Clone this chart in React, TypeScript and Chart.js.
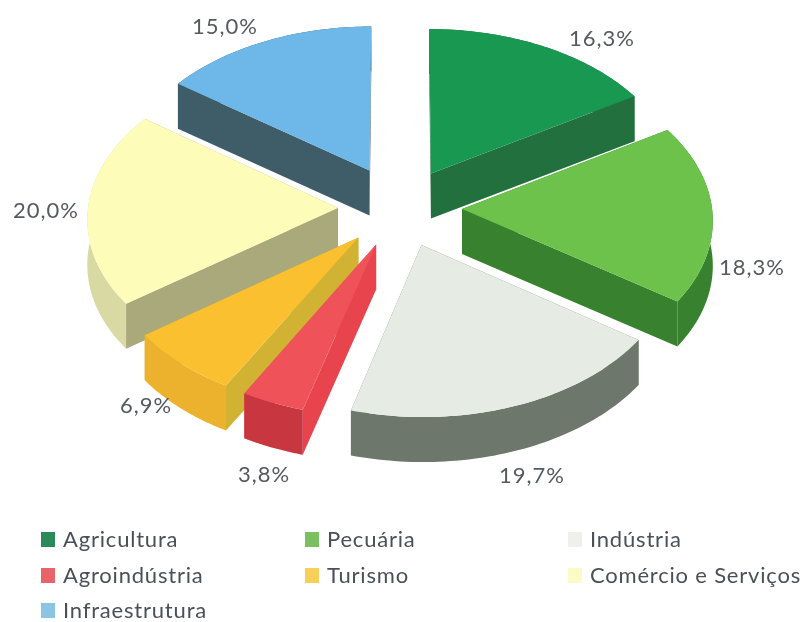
import React, { useEffect, useRef } from "react";
import { Chart, registerables } from "chart.js";

Chart.register(...registerables);

const categories = ["Agricultura", "Pecuária", "Indústria", "Agroindústria", "Turismo", "Comércio e Serviços", "Infraestrutura"];
const shares = [16.3, 18.3, 19.7, 3.8, 6.9, 20.0, 15.0];
const valueLabels = ["16,3%", "18,3%", "19,7%", "3,8%", "6,9%", "20,0%", "15,0%"];

const topColors = ["#199852", "#6cc24a", "#e6ece4", "#f0525a", "#fbc02f", "#fdfcb9", "#6db7e9"];
const rimColors = ["#23703f", "#37812f", "#6d776b", "#c8363f", "#ecb22e", "#d9d9a4", "#3f5c69"];
const wallColors = ["#23703f", "#37812f", "#6d776b", "#e8444e", "#d2b233", "#a9a97b", "#3f5c69"];
const legendColors = ["#2a8a58", "#78c060", "#eef0ec", "#e8636a", "#f8cf58", "#fafcc8", "#8cc4e4"];

const explode = [64, 62, 62, 62, 62, 62, 68];
const labelAnchors = [[602, 39], [752, 268], [532, 476], [264, 475], [146, 406], [46, 211], [225, 27]];
const legendCells = [[41, 540], [305, 540], [568, 540], [41, 576], [305, 576], [568, 576], [41, 611]];

const SQUASH = 0.628;
const PERSPECTIVE = 0.00024;
const DEPTH = 45;
const ARC_STEPS = 60;

const pie3d = {
  id: "pie3d",
  beforeDatasetsDraw(chart: any) {
    const ctx: CanvasRenderingContext2D = chart.ctx;
    const arcs = chart.getDatasetMeta(0).data.map((el: any, i: number) => ({ el, i }));
    const mid = (a: any) => (a.el.startAngle + a.el.endAngle) / 2;
    arcs.sort((a: any, b: any) => Math.sin(mid(a)) - Math.sin(mid(b)));
    for (const { el, i } of arcs) {
      const m = mid({ el });
      const off = el.options.offset;
      const ax = Math.cos(m) * off;
      const ay = Math.sin(m) * off;
      const r = el.outerRadius;
      const s0 = el.startAngle;
      const e0 = el.endAngle;
      const project = (wx: number, wy: number, d = 0): [number, number] => {
        const s = 1 / (1 - PERSPECTIVE * wy);
        return [el.x + wx * s, el.y + wy * SQUASH * s + d];
      };
      const rimPoint = (t: number, d = 0) => project(ax + Math.cos(t) * r, ay + Math.sin(t) * r, d);
      const apex = (d = 0) => project(ax, ay, d);
      const poly = (pts: [number, number][], fill: string) => {
        ctx.fillStyle = fill;
        ctx.beginPath();
        pts.forEach((p, k) => (k ? ctx.lineTo(p[0], p[1]) : ctx.moveTo(p[0], p[1])));
        ctx.closePath();
        ctx.fill();
      };
      const arcPts: number[] = [];
      for (let k = 0; k <= ARC_STEPS; k++) arcPts.push(s0 + ((e0 - s0) * k) / ARC_STEPS);
      // cut faces
      for (const t of [s0, e0]) {
        poly([apex(), rimPoint(t), rimPoint(t, DEPTH), apex(DEPTH)], wallColors[i]);
      }
      // outer rim
      poly(
        [...arcPts.map((t) => rimPoint(t)), ...arcPts.slice().reverse().map((t) => rimPoint(t, DEPTH))],
        rimColors[i]
      );
      // top face
      poly([apex(), ...arcPts.map((t) => rimPoint(t))], el.options.backgroundColor);
    }
    return false;
  },
  afterDraw(chart: any) {
    const ctx: CanvasRenderingContext2D = chart.ctx as any;
    ctx.save();
    ctx.textBaseline = "middle";
    ctx.fillStyle = "#555a60";
    ctx.font = "22px Lato";
    (ctx as any).letterSpacing = "1px";
    ctx.textAlign = "center";
    valueLabels.forEach((t, i) => ctx.fillText(t, labelAnchors[i][0], labelAnchors[i][1]));
    ctx.textAlign = "left";
    (ctx as any).letterSpacing = "0.8px";
    categories.forEach((c, i) => {
      const [lx, ly] = legendCells[i];
      ctx.fillStyle = legendColors[i];
      ctx.fillRect(lx, ly - 8, 14, 15);
      ctx.fillStyle = "#4a5058";
      ctx.fillText(c, lx + 22, ly);
    });
    ctx.restore();
  },
};

export default function App() {
  const ref = useRef<HTMLCanvasElement>(null);
  useEffect(() => {
    const chart = new Chart(ref.current as HTMLCanvasElement, {
      type: "pie",
      data: {
        labels: categories,
        datasets: [{ data: shares, backgroundColor: topColors, offset: explode, borderWidth: 0 }],
      },
      options: {
        animation: false,
        responsive: false,
        radius: 250,
        layout: { padding: { right: 5, bottom: 206 } },
        plugins: { legend: { display: false }, tooltip: { enabled: false } },
      } as any,
      plugins: [pie3d],
    });
    return () => chart.destroy();
  }, []);
  return (
    <div style={{ position: "fixed", left: 0, top: 0, width: 805, height: 622, background: "#fff" }}>
      <canvas ref={ref} width={805} height={622} style={{ display: "block", filter: "blur(0.5px)" }} />
    </div>
  );
}
